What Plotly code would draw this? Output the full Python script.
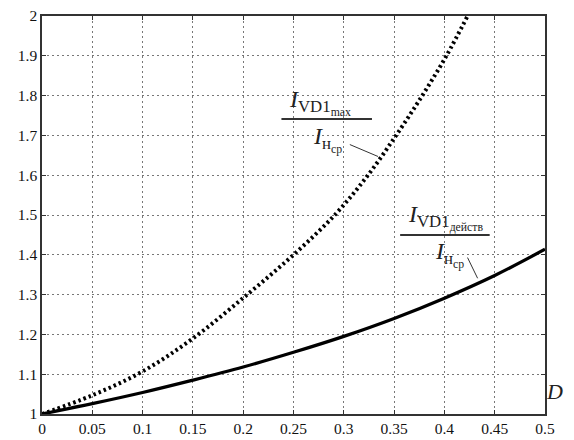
import plotly.graph_objects as go

# Data
d_max = [0.0, 0.05, 0.10, 0.15, 0.204, 0.25, 0.291, 0.324, 0.352, 0.378, 0.402, 0.423]
i_max = [1.0, 1.047, 1.107, 1.19, 1.30, 1.40, 1.50, 1.60, 1.70, 1.80, 1.90, 2.0]

d_rms = [0.0, 0.05, 0.10, 0.15, 0.20, 0.25, 0.30, 0.35, 0.40, 0.45, 0.50]
i_rms = [1.0, 1.026, 1.054, 1.085, 1.118, 1.155, 1.195, 1.24, 1.291, 1.348, 1.414]

x_ticks = [0, 0.05, 0.1, 0.15, 0.2, 0.25, 0.3, 0.35, 0.4, 0.45, 0.5]
y_ticks = [1, 1.1, 1.2, 1.3, 1.4, 1.5, 1.6, 1.7, 1.8, 1.9, 2]

FONT = "Liberation Serif"

fig = go.Figure()
fig.add_trace(go.Scatter(x=d_rms, y=i_rms, mode="lines", line_shape="spline",
                         line=dict(color="black", width=3.2), showlegend=False))
fig.add_trace(go.Scatter(x=d_max, y=i_max, mode="lines", line_shape="spline",
                         line=dict(color="black", width=4, dash="2.5px,3px"), showlegend=False))

ax_common = dict(showline=True, linecolor="#333", linewidth=1.5, mirror="allticks",
                 ticks="inside", ticklen=4, tickcolor="#333", automargin=False,
                 ticklabeloverflow="allow",
                 showgrid=True, gridcolor="#777", griddash="2px,3px", gridwidth=1,
                 zeroline=False, tickfont=dict(family=FONT, size=15.5, color="#111"))

fig.update_xaxes(range=[0, 0.5], tickvals=x_ticks, **ax_common)
fig.update_yaxes(range=[1, 2], tickvals=y_ticks, **ax_common)

# fraction bars and leader lines
shapes = [
    dict(type="line", x0=0.238, x1=0.328, y0=1.741, y1=1.741, line=dict(color="#333", width=2)),
    dict(type="line", x0=0.306, x1=0.334, y0=1.677, y1=1.647, line=dict(color="#333", width=1)),
    dict(type="line", x0=0.356, x1=0.445, y0=1.450, y1=1.450, line=dict(color="#333", width=2)),
    dict(type="line", x0=0.423, x1=0.433, y0=1.393, y1=1.341, line=dict(color="#333", width=1)),
]
for s in shapes:
    s.update(xref="x", yref="y")
    fig.add_shape(**s)

ann = [
    dict(x=0.276, y=1.783, text="<i>I</i><sub>VD1<sub>max</sub></sub>"),
    dict(x=0.284, y=1.690, text="<i>I</i><sub>н<sub>ср</sub></sub>"),
    dict(x=0.401, y=1.493, text="<i>I</i><sub>VD1<sub>действ</sub></sub>"),
    dict(x=0.405, y=1.402, text="<i>I</i><sub>н<sub>ср</sub></sub>"),
]
for a in ann:
    fig.add_annotation(xref="x", yref="y", showarrow=False,
                       font=dict(family=FONT, size=24, color="#222"), **a)

fig.add_annotation(xref="paper", yref="paper", x=1.04, y=0.02, text="<i>D</i>",
                   showarrow=False, font=dict(family=FONT, size=22, color="#222"))

# page body has an 8px default margin, so the figure is sized to fit the window
fig.update_layout(width=566, height=432, margin=dict(l=34, r=29, t=8, b=26, autoexpand=False),
                  plot_bgcolor="white", paper_bgcolor="white")

fig.write_html("out.html")
